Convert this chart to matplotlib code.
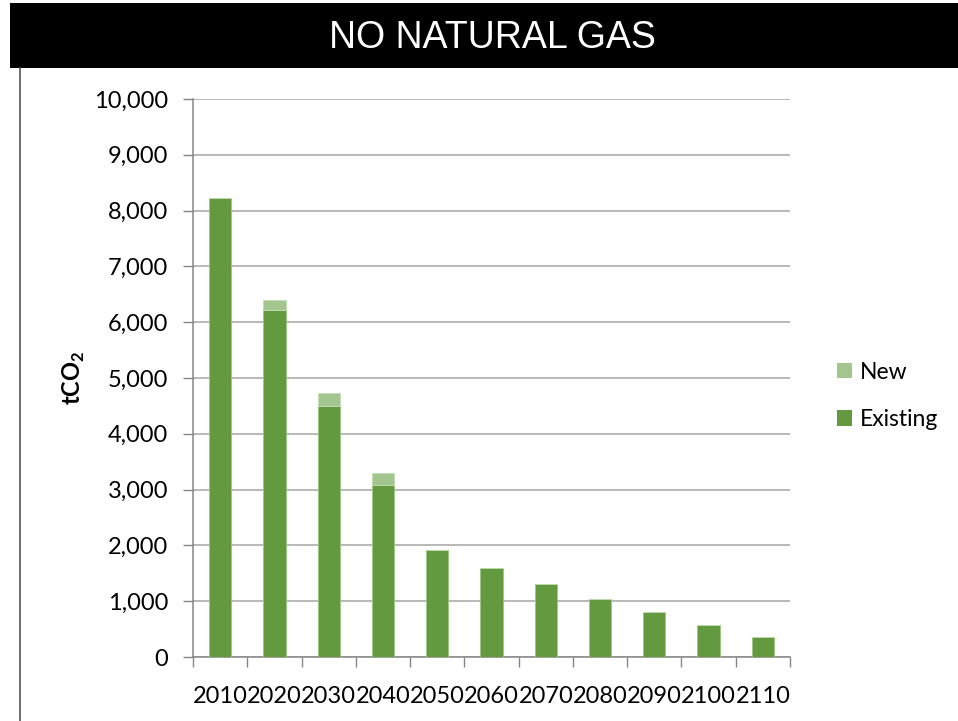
import matplotlib
matplotlib.use("Agg")
import matplotlib.pyplot as plt
from matplotlib import font_manager
from matplotlib.patches import Rectangle, Patch
from matplotlib.lines import Line2D
from matplotlib.ticker import FuncFormatter, FixedLocator

years = ["2010", "2020", "2030", "2040", "2050", "2060", "2070",
         "2080", "2090", "2100", "2110"]
existing = [8230, 6210, 4500, 3080, 1920, 1600, 1315, 1045, 800, 570, 360]
new = [0, 190, 230, 220, 0, 0, 0, 0, 0, 0, 0]

title_text = "NO NATURAL GAS"
series_names = ["New", "Existing"]

installed = {f.name for f in font_manager.fontManager.ttflist}
body_font = "Lato" if "Lato" in installed else "DejaVu Sans"
title_font = "Liberation Sans Narrow" if "Liberation Sans Narrow" in installed else "Liberation Sans"

plt.rcParams["font.family"] = [body_font, "DejaVu Sans"]
plt.rcParams["mathtext.fontset"] = "custom"
plt.rcParams["mathtext.rm"] = body_font
plt.rcParams["mathtext.bf"] = body_font + ":bold"

W, H = 958, 721
fig = plt.figure(figsize=(W / 100, H / 100), dpi=100)

# Black title banner and thin frame line on the left
fig.patches.append(Rectangle((10 / W, 1 - 68 / H), 1 - 10 / W, 65 / H,
                             transform=fig.transFigure, facecolor="black",
                             edgecolor="none", zorder=0))
fig.lines.append(Line2D([20 / W, 20 / W], [0, 1 - 68 / H], transform=fig.transFigure,
                        color="#555555", lw=1.2))
fig.text(492 / W, 1 - 38 / H, title_text, color="white", ha="center", va="center",
         fontsize=27, family=[title_font, "DejaVu Sans"])

ax = fig.add_axes([193 / W, 1 - 657 / H, (790 - 193) / W, (657 - 99) / H])

green = "#639a3f"
light_green = "#a3c68e"
x = range(len(years))
ax.bar(x, existing, width=0.41, color=green, edgecolor="#9cc884", linewidth=0.6,
       label=series_names[1], zorder=3)
ax.bar(x, new, width=0.41, bottom=existing, color=light_green, edgecolor="#c4ddb5",
       linewidth=0.6, label=series_names[0], zorder=3)

ax.set_xlim(-0.5, len(years) - 0.5)
ax.set_ylim(0, 10000)
ax.set_yticks(range(0, 10001, 1000))
ax.yaxis.set_major_formatter(FuncFormatter(lambda v, p: f"{int(v):,}"))
ax.grid(axis="y", color="#a6a6a6", linewidth=1.1, zorder=0)

ax.set_xticks(list(x))
ax.set_xticklabels(years)
ax.xaxis.set_minor_locator(FixedLocator([i - 0.5 for i in range(len(years) + 1)]))
ax.tick_params(axis="x", which="major", length=0, labelsize=17, pad=21, colors="black")
ax.tick_params(axis="x", which="minor", length=7, width=1, color="#868686")
ax.tick_params(axis="y", length=7, width=1, color="#868686", labelsize=17, pad=11)

for s in ["top", "right"]:
    ax.spines[s].set_visible(False)
for s in ["left", "bottom"]:
    ax.spines[s].set_color("#868686")
    ax.spines[s].set_linewidth(1.1)

fig.text(74 / W, 1 - 378 / H, r"tCO$_\mathbf{2}$", rotation=90, ha="center",
         va="center", fontsize=17, fontweight="bold")

handles = [Patch(facecolor=light_green), Patch(facecolor=green)]
fig.legend(handles, series_names, loc="center left",
           bbox_to_anchor=(826 / W, 1 - 396 / H), frameon=False, fontsize=16.5,
           handlelength=0.65, handleheight=0.65, handletextpad=0.35,
           labelspacing=1.15, borderpad=0)

fig.savefig("out.png", dpi=100)
